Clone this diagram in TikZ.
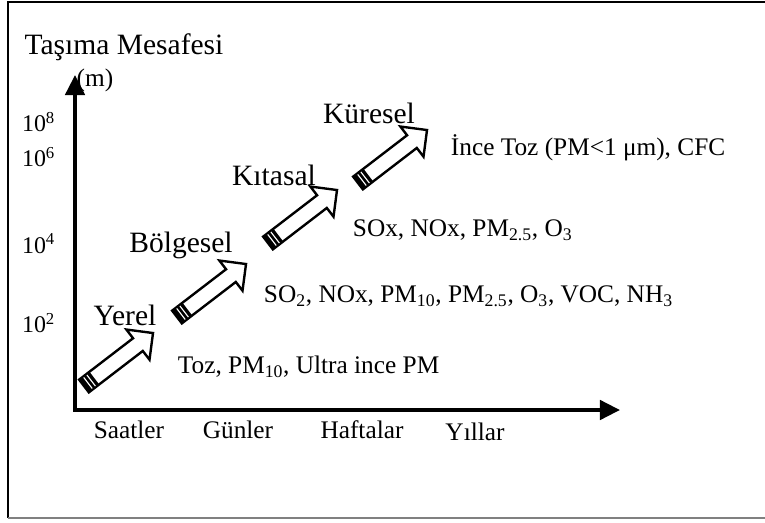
\documentclass[tikz,border=0pt]{standalone}
\usepackage{fontspec}
\setmainfont{Liberation Serif}
\usetikzlibrary{arrows.meta}

\newcommand{\rangefont}{\fontsize{21}{24}\selectfont}
\newcommand{\itemfont}{\fontsize{18}{21}\selectfont}
\newcommand{\tickfont}{\fontsize{17}{20}\selectfont}

\tikzset{
  pics/flowarrow/.style={code={
    \draw[line width=1.7pt, fill=white] (0,-8) -- (68,-8) -- (68,-19) -- (87,0) -- (68,19) -- (68,8) -- (0,8) -- cycle;
    \fill (0,-8) rectangle (13,8);
    \draw[white, line width=0.8pt] (5,-7) -- (5,7) (9,-7) -- (9,7);
  }}
}

\begin{document}
\begin{tikzpicture}[x=0.025cm,y=0.025cm,>={Triangle[length=5mm,width=4.8mm]}]
    \useasboundingbox (0,0) rectangle (765,522);
    \draw[line width=1pt] (765,520) -- (8,520) -- (8,4);
    \draw[gray, line width=1.5pt] (8,4) -- (765,4);

    \coordinate (o) at (75,112);
    \coordinate (ytop) at (75,447);
    \coordinate (xend) at (620,112);
    \draw[<->, line width=2.8pt] (ytop) -- (o) -- (xend);

    \node[font=\rangefont] (title) at (124,475) {Taşıma Mesafesi};
    \node[font=\itemfont] (unit) at (95,442) {(m)};

    \node[font=\tickfont, anchor=east] (t8) at (60,400) {10\textsuperscript{8}};
    \node[font=\tickfont, anchor=east] (t6) at (60,365) {10\textsuperscript{6}};
    \node[font=\tickfont, anchor=east] (t4) at (60,278) {10\textsuperscript{4}};
    \node[font=\tickfont, anchor=east] (t2) at (60,199) {10\textsuperscript{2}};

    \node[font=\itemfont] (hours) at (129,92) {Saatler};
    \node[font=\itemfont] (days) at (238,92) {Günler};
    \node[font=\itemfont] (weeks) at (362,92) {Haftalar};
    \node[font=\itemfont] (years) at (475,90) {Yıllar};

    \coordinate (a1) at (84,136);
    \coordinate (a2) at (177,205);
    \coordinate (a3) at (268,279);
    \coordinate (a4) at (358,339);
    \pic[rotate=37.5] at (a1) {flowarrow};
    \pic[rotate=37.5] at (a2) {flowarrow};
    \pic[rotate=37.5] at (a3) {flowarrow};
    \pic[rotate=37.5] at (a4) {flowarrow};

    \node[font=\rangefont] (local) at (125,207) {Yerel};
    \node[font=\rangefont] (regional) at (181,277) {Bölgesel};
    \node[font=\rangefont] (continental) at (274,347) {Kıtasal};
    \node[font=\rangefont] (global) at (369,409) {Küresel};

    \node[font=\itemfont, anchor=west] (p1) at (173,155) {Toz, PM\textsubscript{10}, Ultra ince PM};
    \node[font=\itemfont, anchor=west] (p2) at (259,226) {SO\textsubscript{2}, NOx, PM\textsubscript{10}, PM\textsubscript{2.5}, O\textsubscript{3}, VOC, NH\textsubscript{3}};
    \node[font=\itemfont, anchor=west] (p3) at (348,292) {SOx, NOx, PM\textsubscript{2.5}, O\textsubscript{3}};
    \node[font=\itemfont, anchor=west] (p4) at (446,374) {İnce Toz (PM<1 μm), CFC};
\end{tikzpicture}
\end{document}
